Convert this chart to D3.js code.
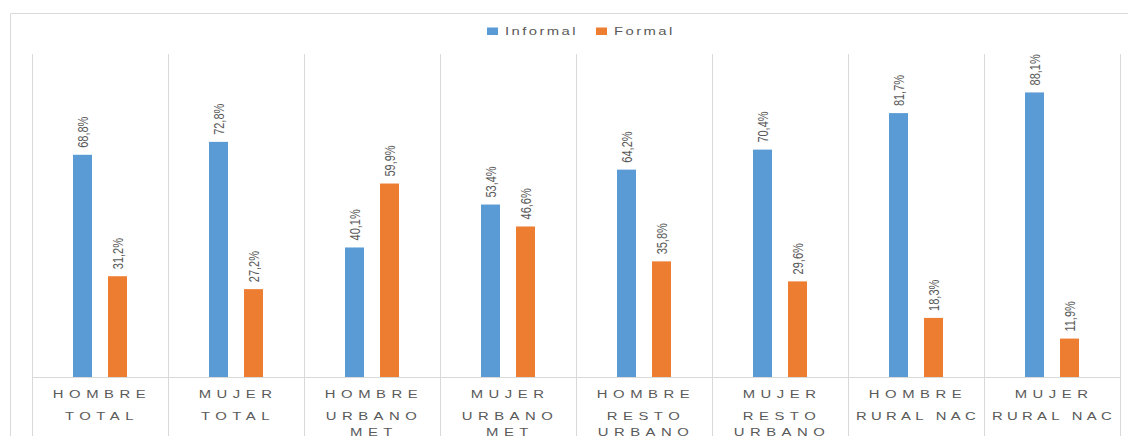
<!DOCTYPE html>
<html>
<head>
<meta charset="utf-8">
<script src="https://cdn.jsdelivr.net/npm/d3@7/dist/d3.min.js"></script>
<style>
  html, body { margin: 0; padding: 0; background: #fff; }
  svg { display: block; }
  text { font-family: "Liberation Sans", Arial, sans-serif; fill: #595959; }
</style>
</head>
<body>
<svg id="chart" width="1128" height="436"></svg>
<script>
// Empleo informal vs formal por sexo y área
const sexes = ["HOMBRE", "MUJER", "HOMBRE", "MUJER", "HOMBRE", "MUJER", "HOMBRE", "MUJER"];
const areas = [["TOTAL"], ["TOTAL"], ["URBANO", "MET"], ["URBANO", "MET"],
               ["RESTO", "URBANO"], ["RESTO", "URBANO"], ["RURAL NAC"], ["RURAL NAC"]];
const seriesNames = ["Informal", "Formal"];
const informal = [68.8, 72.8, 40.1, 53.4, 64.2, 70.4, 81.7, 88.1];
const formal = [31.2, 27.2, 59.9, 46.6, 35.8, 29.6, 18.3, 11.9];
const colors = ["#5b9bd5", "#ed7d31"];

const svg = d3.select("#chart");
const W = 1128, H = 436;
const plot = { left: 32, right: 1120, top: 54, bottom: 377 };
const gridColor = "#d9d9d9";
const stretch = 1.35;   // wide type used across the chart

const groups = d3.range(sexes.length);
const x0 = d3.scaleBand().domain(groups).range([plot.left, plot.right]).padding(0);
const x1 = d3.scaleBand().domain(seriesNames).range([41, 95]).paddingInner(0.457).paddingOuter(0);
const y = d3.scaleLinear().domain([0, 100]).range([plot.bottom, plot.top]);
const color = d3.scaleOrdinal().domain(seriesNames).range(colors);

// outer frame (left and top edges)
svg.append("path")
  .attr("d", `M10.5,${H} V13.5 H${W}`)
  .attr("fill", "none").attr("stroke", gridColor).attr("stroke-width", 1);

// group separators
const seps = groups.concat([groups.length]).map(i => i < groups.length ? x0(i) : x0(groups.length - 1) + x0.bandwidth());
svg.append("g").selectAll("line").data(seps).join("line")
  .attr("x1", d => Math.round(d) + 0.5).attr("x2", d => Math.round(d) + 0.5)
  .attr("y1", plot.top).attr("y2", H)
  .attr("stroke", gridColor).attr("stroke-width", 1);

// baseline
svg.append("line")
  .attr("x1", plot.left).attr("x2", plot.right + 1)
  .attr("y1", plot.bottom + 0.5).attr("y2", plot.bottom + 0.5)
  .attr("stroke", gridColor).attr("stroke-width", 1);

// bars
const rows = groups.map(i => ({ i, values: [
  { key: "Informal", v: informal[i] },
  { key: "Formal", v: formal[i] }
]}));

const g = svg.append("g").selectAll("g").data(rows).join("g")
  .attr("transform", d => `translate(${x0(d.i)},0)`);

g.selectAll("rect").data(d => d.values).join("rect")
  .attr("x", d => x1(d.key))
  .attr("width", x1.bandwidth())
  .attr("y", d => y(d.v))
  .attr("height", d => y(0) - y(d.v))
  .attr("fill", d => color(d.key));

// value labels, rotated above each bar
const fmt = v => v.toFixed(1).replace(".", ",") + "%";
g.selectAll("text.val").data(d => d.values).join("text")
  .attr("class", "val")
  .attr("transform", d => `translate(${x1(d.key) + x1.bandwidth() / 2},${y(d.v) - 7}) rotate(-90) scale(1,${stretch})`)
  .attr("dy", "0.35em")
  .attr("text-anchor", "start")
  .style("font-size", "11px")
  .text(d => fmt(d.v));

// category labels (two levels)
const catG = svg.append("g").selectAll("g").data(groups).join("g")
  .attr("transform", i => `translate(${x0(i) + x0.bandwidth() / 2},0)`);

catG.append("text")
  .attr("transform", `translate(2,398) scale(${stretch},1)`)
  .attr("text-anchor", "middle")
  .style("font-size", "11px")
  .style("letter-spacing", "4.1px")
  .text(i => sexes[i]);

catG.each(function(i) {
  const sel = d3.select(this);
  areas[i].forEach((line, k) => {
    sel.append("text")
      .attr("transform", `translate(2,${420 + k * 16}) scale(${stretch},1)`)
      .attr("text-anchor", "middle")
      .style("font-size", "11px")
      .style("letter-spacing", line.length > 7 ? "3.2px" : "4.1px")
      .text(line);
  });
});

// legend
const legendX = [487, 596];
const lg = svg.append("g").selectAll("g").data(seriesNames).join("g")
  .attr("transform", (d, i) => `translate(${legendX[i]},0)`);
lg.append("rect")
  .attr("x", 0).attr("y", 27.5).attr("width", 11).attr("height", 7.5)
  .attr("fill", d => color(d));
lg.append("text")
  .attr("transform", `translate(18,35) scale(${stretch},1)`)
  .style("font-size", "11px")
  .style("letter-spacing", "1.8px")
  .text(d => d);
</script>
</body>
</html>
